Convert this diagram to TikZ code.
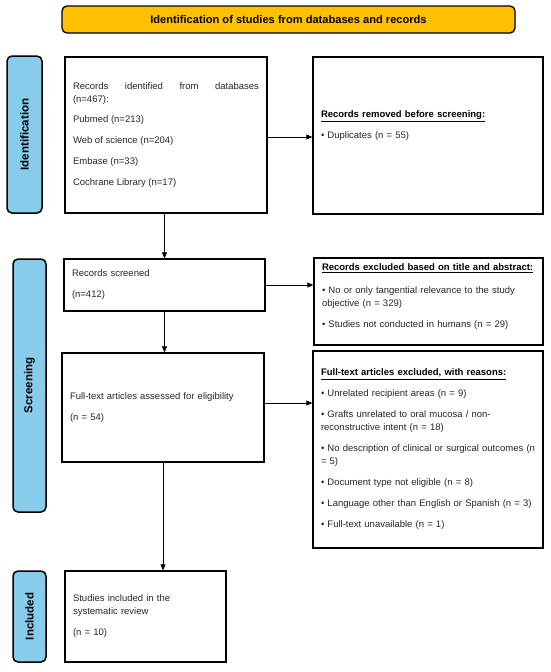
\documentclass[tikz,border=0pt]{standalone}
\usepackage{fontspec}
\setmainfont{Liberation Sans}
\usetikzlibrary{arrows.meta}
\definecolor{gold}{RGB}{255,192,0}
\definecolor{skyb}{RGB}{135,204,235}
\definecolor{txt}{RGB}{40,40,40}
\begin{document}
\begin{tikzpicture}[x=1pt,y=-1pt,
  titlebox/.style={draw, line width=1.3pt, fill=gold, rounded corners=5pt, minimum width=453pt, minimum height=27pt, inner sep=0pt, font=\fontsize{11.1}{13}\selectfont\bfseries},
  bar/.style={draw, line width=1.5pt, fill=skyb, rounded corners=5pt, rotate=90, inner sep=0pt, font=\fontsize{11.5}{13}\selectfont\bfseries},
  bx/.style={draw, line width=1.3pt, fill=white, inner xsep=8pt, inner ysep=0pt, align=left, font=\fontsize{9.5}{13}\selectfont, text=txt},
  arr/.style={-{Triangle[length=6pt,width=5pt]}, line width=0.7pt}]
\useasboundingbox (0,0) rectangle (550,672);
\fill[white] (0,0) rectangle (550,672);

\node[titlebox] (ttl) at (288.5,19.5) {Identification of studies from databases and records};

\node[bar, minimum width=157pt, minimum height=35pt] (idbar) at (24.5,134.5) {Identification};
\node[bar, minimum width=253pt, minimum height=33pt] (scrbar) at (29.5,385.5) {Screening};
\node[bar, minimum width=91pt, minimum height=33pt] (incbar) at (29.5,616.5) {Included};

\node[bx, text width=186pt, minimum height=156pt, align=justify] (ident) at (166,135)
 {Records identified from databases\linebreak (n=467):\\[7pt]Pubmed (n=213)\\[8pt]Web of science (n=204)\\[8pt]Embase (n=33)\\[8pt]Cochrane Library (n=17)};

\node[bx, text width=214pt, minimum height=157pt] (removed) at (428,135.5)
 {\textcolor{black}{\underline{\textbf{Records removed before screening:}}}\\[8pt]• Duplicates (n = 55)\\[8pt]\mbox{}};

\node[bx, text width=185pt, minimum height=52pt] (screened) at (164.5,285)
 {Records screened\\[8pt](n=412)};

\node[bx, text width=213pt, minimum height=87pt] (exclTA) at (428.5,301.5)
 {\textcolor{black}{\underline{\textbf{Records excluded based on title and abstract:}}}\\[10pt]• No or only tangential relevance to the study\\objective (n = 329)\\[8pt]• Studies not conducted in humans (n = 29)\\[-2pt]\mbox{}};

\node[bx, text width=186pt, minimum height=109pt] (fulltext) at (163,407.5)
 {Full-text articles assessed for eligibility\\[8pt](n = 54)};

\node[bx, text width=214pt, minimum height=197pt] (exclFT) at (428,449.5)
 {\textcolor{black}{\underline{\textbf{Full-text articles excluded, with reasons:}}}\\[8pt]• Unrelated recipient areas (n = 9)\\[8pt]• Grafts unrelated to oral mucosa / non-\\reconstructive intent (n = 18)\\[8pt]• No description of clinical or surgical outcomes (n\\= 5)\\[8pt]• Document type not eligible (n = 8)\\[8pt]• Language other than English or Spanish (n = 3)\\[8pt]• Full-text unavailable (n = 1)};

\node[bx, text width=145pt, minimum height=91pt] (included) at (145.5,616.5)
 {Studies included in the\\systematic review\\[8pt](n = 10)};

\draw[arr] ([yshift=-2pt]ident.east) -- ([yshift=-2pt]ident.east -| removed.west);
\draw[arr] (screened.north |- ident.south) -- (screened.north);
\draw[arr] (screened.east) -- (screened.east -| exclTA.west);
\draw[arr] (screened.south) -- (screened.south |- fulltext.north);
\draw[arr] ([yshift=4.5pt]fulltext.east) -- ([yshift=4.5pt]fulltext.east -| exclFT.west);
\draw[arr] (fulltext.south) -- (fulltext.south |- included.north);
\end{tikzpicture}
\end{document}
